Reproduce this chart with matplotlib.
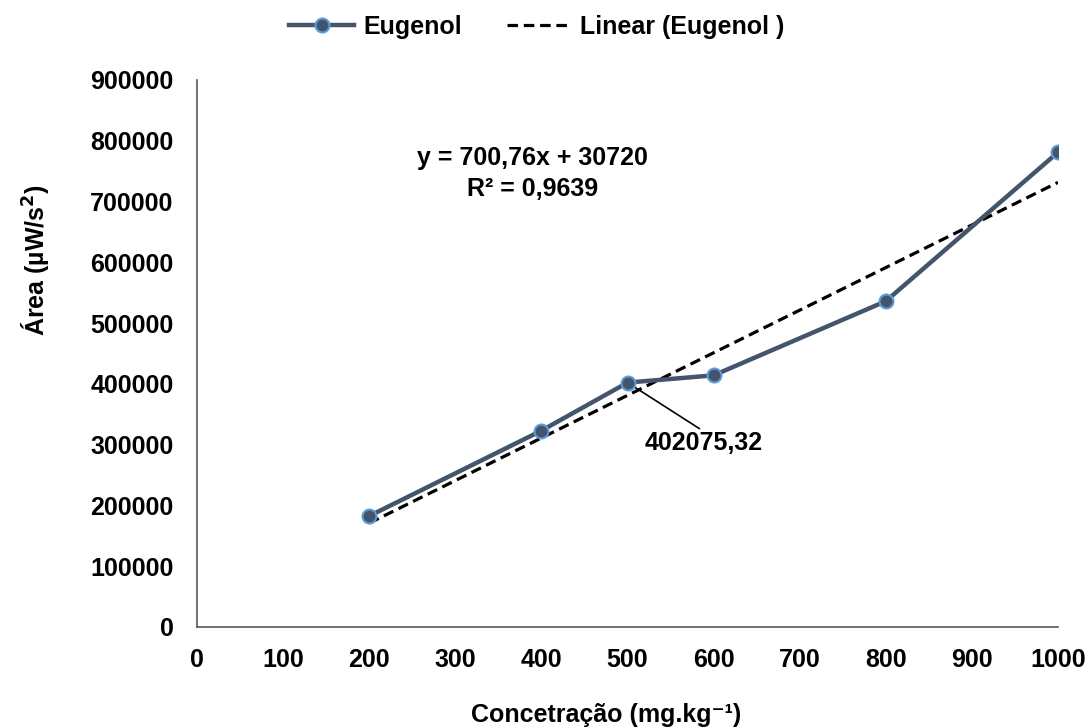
import matplotlib.pyplot as plt
import numpy as np

plt.rcParams['font.family'] = ['Liberation Sans', 'DejaVu Sans']
plt.rcParams['font.weight'] = 'bold'

# data
conc = [200, 400, 500, 600, 800, 1000]
area = [182600, 323000, 402075.32, 414000, 536000, 781000]
slope = 700.76
intercept = 30720
r2 = 0.9639
x_ticks = [0, 100, 200, 300, 400, 500, 600, 700, 800, 900, 1000]
y_ticks = [0, 100000, 200000, 300000, 400000, 500000, 600000, 700000, 800000, 900000]

line_col = '#44546A'
edge_col = '#5B9BD5'
fs = 18

fig = plt.figure(figsize=(10.89, 7.27), dpi=100)
ax = fig.add_axes([0.181, 0.1376, 0.7905, 0.7524])

# trendline
xt = np.array([conc[0], conc[-1]])
ax.plot(xt, slope * xt + intercept, color='k', lw=2.3, ls=(0, (3.3, 1.8)), zorder=3,
        label='Linear (Eugenol )')

# data series
ax.plot(conc, area, color=line_col, lw=3.2, marker='o', markersize=10,
        markerfacecolor=line_col, markeredgecolor=edge_col, markeredgewidth=1.5,
        zorder=4, label='Eugenol')

ax.set_xlim(0, 1000)
ax.set_ylim(0, 900000)
ax.set_xticks(x_ticks)
ax.set_yticks(y_ticks)
ax.tick_params(length=0, labelsize=fs)
ax.tick_params(axis='y', pad=17)
ax.tick_params(axis='x', pad=15)
for lbl in ax.get_xticklabels() + ax.get_yticklabels():
    lbl.set_fontweight('bold')

for side in ['top', 'right']:
    ax.spines[side].set_visible(False)
for side in ['left', 'bottom']:
    ax.spines[side].set_color('#595959')
    ax.spines[side].set_linewidth(1.2)

# equation text
ax.text(390, 746000, 'y = 700,76x + 30720\nR² = 0,9639', ha='center', va='center',
        fontsize=fs, fontweight='bold', linespacing=1.35)

# data label with leader line
ax.annotate('402075,32', xy=(conc[2], area[2]), xytext=(520, 302000),
            fontsize=fs, fontweight='bold', ha='left', va='center',
            arrowprops=dict(arrowstyle='-', color='k', lw=1.2, shrinkA=0, shrinkB=0,
                            relpos=(0.5, 1.0)))

fig.text(35 / 1089, 1 - 260 / 727, 'Área (µW/s$^\\mathbf{2}$)', rotation=90,
         ha='center', va='center', fontsize=fs, fontweight='bold')
fig.text(606 / 1089, 1 - 715 / 727, 'Concetração (mg.kg⁻¹)', ha='center', va='center',
         fontsize=fs, fontweight='bold')

handles, labels = ax.get_legend_handles_labels()
fig.legend(handles[::-1], labels[::-1], loc='center', bbox_to_anchor=(537 / 1089, 1 - 27 / 727),
           ncol=2, frameon=False, handlelength=2.6, columnspacing=1.8,
           handletextpad=0.35, prop={'weight': 'bold', 'size': fs})

fig.savefig('out.png', dpi=100)
